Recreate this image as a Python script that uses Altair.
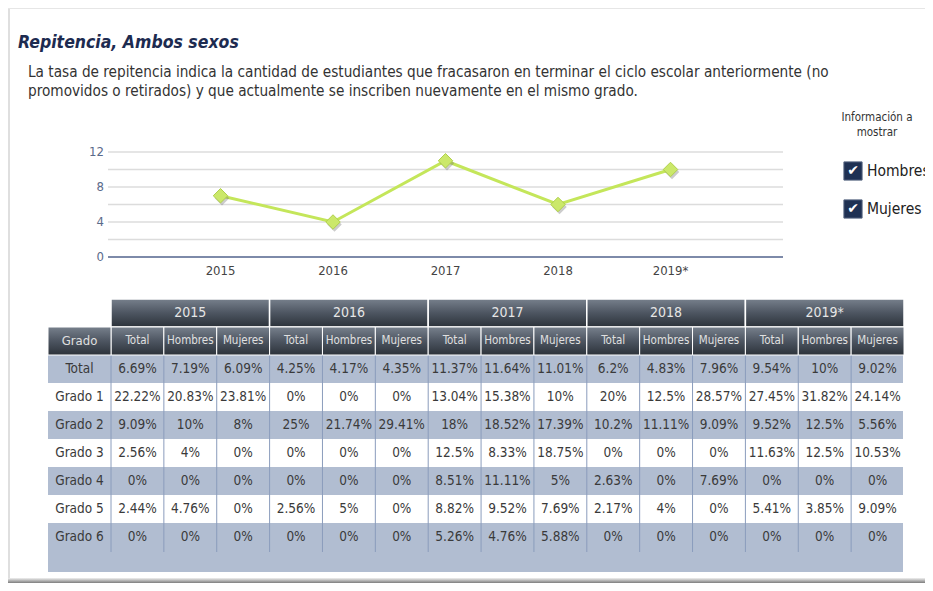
import altair as alt
import pandas as pd

FONT = "DejaVu Sans Condensed, DejaVu Sans, sans-serif"

# ---------------- texts ----------------
title_text = "Repitencia, Ambos sexos"
desc_lines = [
    "La tasa de repitencia indica la cantidad de estudiantes que fracasaron en terminar el ciclo escolar anteriormente (no",
    "promovidos o retirados) y que actualmente se inscriben nuevamente en el mismo grado.",
]
legend_title = ["Información a", "mostrar"]
legend_items = ["Hombres", "Mujeres"]

# ---------------- line chart data ----------------
years = ["2015", "2016", "2017", "2018", "2019*"]
chart_values = [7, 4, 11, 6, 10]
y_ticks = [0, 4, 8, 12]
grid_values = [2, 4, 6, 8, 10, 12]

# ---------------- table data ----------------
grades = ["Total", "Grado 1", "Grado 2", "Grado 3", "Grado 4", "Grado 5", "Grado 6"]
sub_cols = ["Total", "Hombres", "Mujeres"]
t2015 = [[6.69, 7.19, 6.09], [22.22, 20.83, 23.81], [9.09, 10, 8], [2.56, 4, 0], [0, 0, 0], [2.44, 4.76, 0], [0, 0, 0]]
t2016 = [[4.25, 4.17, 4.35], [0, 0, 0], [25, 21.74, 29.41], [0, 0, 0], [0, 0, 0], [2.56, 5, 0], [0, 0, 0]]
t2017 = [[11.37, 11.64, 11.01], [13.04, 15.38, 10], [18, 18.52, 17.39], [12.5, 8.33, 18.75], [8.51, 11.11, 5], [8.82, 9.52, 7.69], [5.26, 4.76, 5.88]]
t2018 = [[6.2, 4.83, 7.96], [20, 12.5, 28.57], [10.2, 11.11, 9.09], [0, 0, 0], [2.63, 0, 7.69], [2.17, 4, 0], [0, 0, 0]]
t2019 = [[9.54, 10, 9.02], [27.45, 31.82, 24.14], [9.52, 12.5, 5.56], [11.63, 12.5, 10.53], [0, 0, 0], [5.41, 3.85, 9.09], [0, 0, 0]]
tables = [t2015, t2016, t2017, t2018, t2019]

# ---------------- build frames ----------------
col_keys = [f"{y}|{s}" for y in years for s in sub_cols]
rows_all = ["h1", "h2"] + grades

body = []
for y, tab in zip(years, tables):
    for g, vals in zip(grades, tab):
        for s, v in zip(sub_cols, vals):
            body.append({"row": g, "col": f"{y}|{s}", "label": f"{v:g}%"})
body_df = pd.DataFrame(body)
sub_df = pd.DataFrame({"row": "h2", "col": col_keys, "label": [k.split("|")[1] for k in col_keys]})
year_df = pd.DataFrame({"row": "h1", "year": years})
grade_df = pd.DataFrame({"row": grades, "g": "Grado"})
grado_head_df = pd.DataFrame({"row": ["h2"], "g": ["Grado"]})
stripe_df = pd.DataFrame({"row": [g for i, g in enumerate(grades) if i % 2 == 0]})
sep_df = pd.DataFrame({"col": col_keys})

line_df = pd.DataFrame({"year": years, "v": chart_values})
grid_df = pd.DataFrame({"v": grid_values})
base_df = pd.DataFrame({"v": [0]})
ytick_df = pd.DataFrame({"v": y_ticks, "t": [str(t) for t in y_ticks]})
desc_df = pd.DataFrame({"line": desc_lines})
ltitle_df = pd.DataFrame({"line": legend_title})
legend_df = pd.DataFrame({"item": legend_items})
one = pd.DataFrame({"a": [0]})

# ---------------- scales ----------------
col_scale = alt.Scale(type="band", domain=col_keys, range=[103, 896], paddingInner=0, paddingOuter=0)
year_scale = alt.Scale(type="band", domain=years, range=[103, 896], paddingInner=0, paddingOuter=0)
grado_scale = alt.Scale(type="band", domain=["Grado"], range=[40, 103], paddingInner=0, paddingOuter=0)
row_scale = alt.Scale(type="band", domain=rows_all, range=[291, 543], paddingInner=0, paddingOuter=0)
lx = alt.Scale(type="point", domain=years, range=[100, 775], padding=1)
ly = alt.Scale(type="linear", domain=[0, 12], range=[249, 144], nice=False)
desc_scale = alt.Scale(type="point", domain=desc_lines, range=[64, 83], padding=0)
lt_scale = alt.Scale(type="point", domain=legend_title, range=[110, 125], padding=0)
leg_scale = alt.Scale(type="point", domain=legend_items, range=[163, 201], padding=0)

head_grad = alt.LinearGradient(
    gradient="linear",
    stops=[alt.GradientStop(color="#77808c", offset=0),
           alt.GradientStop(color="#4d5561", offset=0.5),
           alt.GradientStop(color="#2c323a", offset=1)],
    x1=0, x2=0, y1=0, y2=1,
)
bottom_grad = alt.LinearGradient(
    gradient="linear",
    stops=[alt.GradientStop(color="#f0f0f0", offset=0),
           alt.GradientStop(color="#7d7d7d", offset=1)],
    x1=0, x2=0, y1=0, y2=1,
)

layers = []

# frame
layers.append(alt.Chart(one).mark_rule(color="#d4d4d4", strokeWidth=1.5).encode(
    x=alt.value(1), y=alt.value(0), y2=alt.value(575)))
layers.append(alt.Chart(one).mark_rule(color="#e6e6e6", strokeWidth=1).encode(
    x=alt.value(0), x2=alt.value(917), y=alt.value(0.5)))
layers.append(alt.Chart(one).mark_rect(color=bottom_grad).encode(
    x=alt.value(0), x2=alt.value(917), y=alt.value(570), y2=alt.value(575)))

# title & description
layers.append(alt.Chart(one).mark_text(
    text=title_text, font=FONT, fontSize=17.5, fontWeight="bold", fontStyle="italic",
    color="#1d2b50", align="left", baseline="middle").encode(x=alt.value(10), y=alt.value(35)))
layers.append(alt.Chart(desc_df).mark_text(
    font=FONT, fontSize=15.2, color="#333333", align="left", baseline="middle").encode(
    x=alt.value(20), y=alt.Y("line:N", scale=desc_scale, axis=None), text="line:N"))

# legend (checkboxes)
layers.append(alt.Chart(ltitle_df).mark_text(
    font=FONT, fontSize=11.5, color="#333333", align="center", baseline="middle").encode(
    x=alt.value(869), y=alt.Y("line:N", scale=lt_scale, axis=None), text="line:N"))
layers.append(alt.Chart(legend_df).mark_point(
    shape="square", filled=True, size=330, color="#1f3153", opacity=1, stroke="#53627f", strokeWidth=1).encode(
    x=alt.value(845), y=alt.Y("item:N", scale=leg_scale, axis=None)))
layers.append(alt.Chart(legend_df).mark_text(
    text="\u2714", font="DejaVu Sans", fontSize=14, color="white", align="center", baseline="middle").encode(
    x=alt.value(845), y=alt.Y("item:N", scale=leg_scale, axis=None)))
layers.append(alt.Chart(legend_df).mark_text(
    font=FONT, fontSize=15.5, color="#222222", align="left", baseline="middle").encode(
    x=alt.value(859), y=alt.Y("item:N", scale=leg_scale, axis=None), text="item:N"))

# line chart
layers.append(alt.Chart(grid_df).mark_rule(color="#dcdcdc", strokeWidth=1.5).encode(
    x=alt.value(100), x2=alt.value(775), y=alt.Y("v:Q", scale=ly, axis=None)))
layers.append(alt.Chart(base_df).mark_rule(color="#7d8aa9", strokeWidth=2).encode(
    x=alt.value(100), x2=alt.value(775), y=alt.Y("v:Q", scale=ly, axis=None)))
layers.append(alt.Chart(ytick_df).mark_text(
    font=FONT, fontSize=13, color="#5a6a8a", align="right", baseline="middle").encode(
    x=alt.value(96), y=alt.Y("v:Q", scale=ly, axis=None), text="t:N"))
layers.append(alt.Chart(line_df).mark_text(
    font=FONT, fontSize=13, color="#444444", align="center", baseline="middle").encode(
    x=alt.X("year:N", scale=lx, axis=None), y=alt.value(263), text="year:N"))
layers.append(alt.Chart(line_df).mark_line(color="#c4e65a", strokeWidth=3).encode(
    x=alt.X("year:N", scale=lx, axis=None), y=alt.Y("v:Q", scale=ly, axis=None)))
layers.append(alt.Chart(line_df).mark_point(
    shape="diamond", filled=True, size=210, color="#6e6e6e", opacity=0.35, xOffset=1.5, yOffset=2.5).encode(
    x=alt.X("year:N", scale=lx, axis=None), y=alt.Y("v:Q", scale=ly, axis=None)))
layers.append(alt.Chart(line_df).mark_point(
    shape="diamond", filled=True, size=210, color="#cbe86a", opacity=1, stroke="#b0d04c", strokeWidth=1).encode(
    x=alt.X("year:N", scale=lx, axis=None), y=alt.Y("v:Q", scale=ly, axis=None)))

# table body background
layers.append(alt.Chart(stripe_df).mark_rect(color="#b1bdd1").encode(
    x=alt.value(40), x2=alt.value(895), y=alt.Y("row:N", scale=row_scale, axis=None)))
layers.append(alt.Chart(one).mark_rect(color="#b1bdd1").encode(
    x=alt.value(40), x2=alt.value(895), y=alt.value(542), y2=alt.value(564)))
layers.append(alt.Chart(sep_df).mark_rule(color="#8a9cbc", strokeWidth=1).encode(
    x=alt.X("col:N", scale=col_scale, axis=None, bandPosition=0), y=alt.value(347), y2=alt.value(544)))

# table headers
layers.append(alt.Chart(year_df).mark_rect(color=head_grad, stroke="white", strokeWidth=1.5).encode(
    x=alt.X("year:N", scale=year_scale, axis=None), y=alt.Y("row:N", scale=row_scale, axis=None)))
layers.append(alt.Chart(sub_df).mark_rect(color=head_grad, stroke="white", strokeWidth=1).encode(
    x=alt.X("col:N", scale=col_scale, axis=None), y=alt.Y("row:N", scale=row_scale, axis=None)))
layers.append(alt.Chart(grado_head_df).mark_rect(color=head_grad, stroke="white", strokeWidth=1).encode(
    x=alt.X("g:N", scale=grado_scale, axis=None), y=alt.Y("row:N", scale=row_scale, axis=None)))
layers.append(alt.Chart(year_df).mark_text(
    font=FONT, fontSize=14, color="#e6e6e6", align="center", baseline="middle").encode(
    x=alt.X("year:N", scale=year_scale, axis=None), y=alt.Y("row:N", scale=row_scale, axis=None), text="year:N"))
layers.append(alt.Chart(sub_df).mark_text(
    font=FONT, fontSize=11.5, color="#e0e0e0", align="center", baseline="middle").encode(
    x=alt.X("col:N", scale=col_scale, axis=None), y=alt.Y("row:N", scale=row_scale, axis=None), text="label:N"))
layers.append(alt.Chart(grado_head_df).mark_text(
    font=FONT, fontSize=13, color="#e0e0e0", align="center", baseline="middle").encode(
    x=alt.X("g:N", scale=grado_scale, axis=None), y=alt.Y("row:N", scale=row_scale, axis=None), text="g:N"))

# table text
layers.append(alt.Chart(grade_df).mark_text(
    font=FONT, fontSize=13.5, color="#3a3a3a", align="center", baseline="middle").encode(
    x=alt.X("g:N", scale=grado_scale, axis=None), y=alt.Y("row:N", scale=row_scale, axis=None), text="row:N"))
layers.append(alt.Chart(body_df).mark_text(
    font=FONT, fontSize=13.5, color="#3a3a3a", align="center", baseline="middle").encode(
    x=alt.X("col:N", scale=col_scale, axis=None), y=alt.Y("row:N", scale=row_scale, axis=None), text="label:N"))

chart = alt.layer(*layers).resolve_scale(x="independent", y="independent").properties(
    width=917, height=575, padding=0, autosize=alt.AutoSizeParams(type="none"), background="white"
).configure_view(strokeWidth=0)

chart.save("out.html", embed_options={"renderer": "svg", "actions": False})
